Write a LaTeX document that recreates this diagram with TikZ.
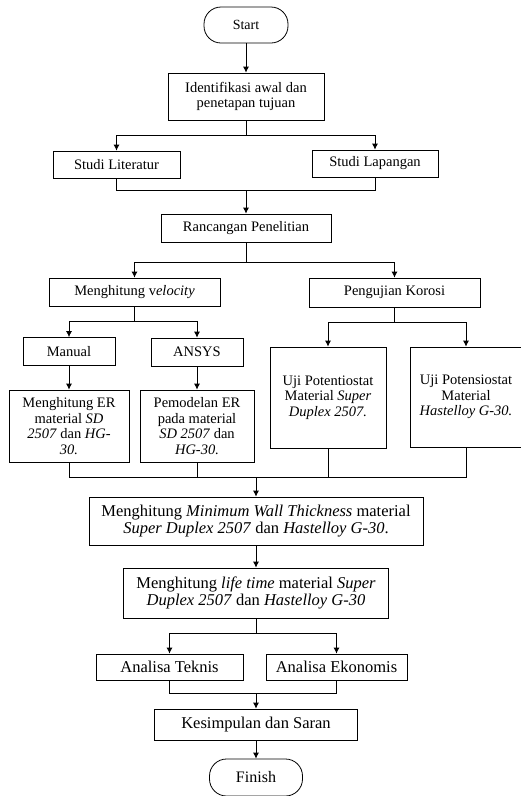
\documentclass[tikz,border=0pt]{standalone}
\usepackage{fontspec}
\setmainfont{Liberation Serif}
\usepackage{tikz}
\usetikzlibrary{arrows.meta,positioning,calc}

\tikzset{
  box/.style={draw, line width=0.8pt, align=center, inner sep=2pt, font=\fontsize{14.5}{15.5}\selectfont},
  bigbox/.style={box, font=\fontsize{16.5}{17.5}\selectfont},
  term/.style={draw, line width=0.8pt, rounded corners=17pt, minimum width=84pt, minimum height=36pt},
  arr/.style={line width=0.8pt, -{Latex[length=6pt,width=6pt]}},
  wire/.style={line width=0.8pt}
}

\begin{document}
\begin{tikzpicture}[x=1pt,y=-1pt]
  \useasboundingbox (0,0) rectangle (521,796);

  % Start and first steps
  \node[term, font=\fontsize{14}{15}\selectfont] (start) at (246,25) {Start};
  \node[box, minimum width=156pt, minimum height=47pt] (ident) at (246,96.5) {Identifikasi awal dan\\ penetapan tujuan};
  \node[box, minimum width=127pt, minimum height=27pt] (lit) at (116.5,164.5) {Studi Literatur};
  \node[box, minimum width=126pt, minimum height=27pt] (lap) at (375,163.5) {Studi Lapangan};
  \node[box, minimum width=170pt, minimum height=28pt] (ranc) at (246,228) {Rancangan Penelitian};

  % Two branches
  \node[box, minimum width=171pt, minimum height=28pt] (velo) at (134.5,292) {Menghitung v\textit{elocity}};
  \node[box, minimum width=171pt, minimum height=29pt] (koro) at (394.5,292.5) {Pengujian Korosi};
  \node[box, minimum width=92pt, minimum height=28pt] (manual) at (69,351.5) {Manual};
  \node[box, minimum width=92pt, minimum height=28pt] (ansys) at (197,352) {ANSYS};
  \node[box, minimum width=120pt, minimum height=72pt] (er1) at (69,426) {Menghitung ER\\ material \textit{SD}\\ \textit{2507} dan \textit{HG-}\\ \textit{30.}};
  \node[box, minimum width=114pt, minimum height=72pt] (er2) at (197,426) {Pemodelan ER\\ pada material\\ \textit{SD 2507} dan\\ \textit{HG-30.}};
  \node[box, minimum width=116pt, minimum height=101pt] (uji1) at (328,397.5) {Uji Potentiostat\\ Material \textit{Super}\\ \textit{Duplex 2507.}};
  \node[box, minimum width=112pt, minimum height=100pt] (uji2) at (466,397) {Uji Potensiostat\\ Material\\ \textit{Hastelloy G-30.}};

  % Lower part
  \node[bigbox, minimum width=334pt, minimum height=48pt] (mwt) at (256,521) {Menghitung \textit{Minimum Wall Thickness} material\\ \textit{Super Duplex 2507} dan \textit{Hastelloy G-30}.};
  \node[bigbox, minimum width=265pt, minimum height=50pt] (life) at (256,593) {Menghitung \textit{life time} material \textit{Super}\\ \textit{Duplex 2507} dan \textit{Hastelloy G-30}};
  \node[bigbox, minimum width=147pt, minimum height=26pt] (teknis) at (169.5,667) {Analisa Teknis};
  \node[bigbox, minimum width=141pt, minimum height=26pt] (ekonomis) at (336.5,667) {Analisa Ekonomis};
  \node[bigbox, minimum width=203pt, minimum height=31pt] (kes) at (256,724.5) {Kesimpulan dan Saran};
  \node[term, minimum width=93pt, minimum height=37pt, font=\fontsize{16}{17}\selectfont] (finish) at (256,777.5) {Finish};

  % Junction points
  \coordinate (j1) at (246,135);
  \coordinate (j2) at (246,190);
  \coordinate (j3) at (246,262);
  \coordinate (j4) at (134.5,321);
  \coordinate (j5) at (394.5,322);
  \coordinate (j6) at (256,477);
  \coordinate (j7) at (256,633);
  \coordinate (j8) at (256,693);

  % Connectors
  \draw[arr] (start) -- (ident);
  \draw[wire] (ident) -- (j1);
  \draw[arr] (j1) -| (lit);
  \draw[arr] (j1) -| (lap);
  \draw[wire] (lit) |- (j2);
  \draw[wire] (lap) |- (j2);
  \draw[arr] (j2) -- (ranc);
  \draw[wire] (ranc) -- (j3);
  \draw[arr] (j3) -| (velo);
  \draw[arr] (j3) -| (koro);
  \draw[wire] (velo) -- (j4);
  \draw[arr] (j4) -| (manual);
  \draw[arr] (j4) -| (ansys);
  \draw[wire] (koro) -- (j5);
  \draw[arr] (j5) -| (uji1);
  \draw[arr] (j5) -| (uji2);
  \draw[arr] (manual) -- (er1);
  \draw[arr] (ansys) -- (er2);
  \draw[wire] (er1) |- (j6);
  \draw[wire] (er2) |- (j6);
  \draw[wire] (uji1) |- (j6);
  \draw[wire] (uji2) |- (j6);
  \draw[arr] (j6) -- (mwt);
  \draw[arr] (mwt) -- (life);
  \draw[wire] (life) -- (j7);
  \draw[arr] (j7) -| (teknis);
  \draw[arr] (j7) -| (ekonomis);
  \draw[wire] (teknis) |- (j8);
  \draw[wire] (ekonomis) |- (j8);
  \draw[arr] (j8) -- (kes);
  \draw[arr] (kes) -- (finish);
\end{tikzpicture}
\end{document}
